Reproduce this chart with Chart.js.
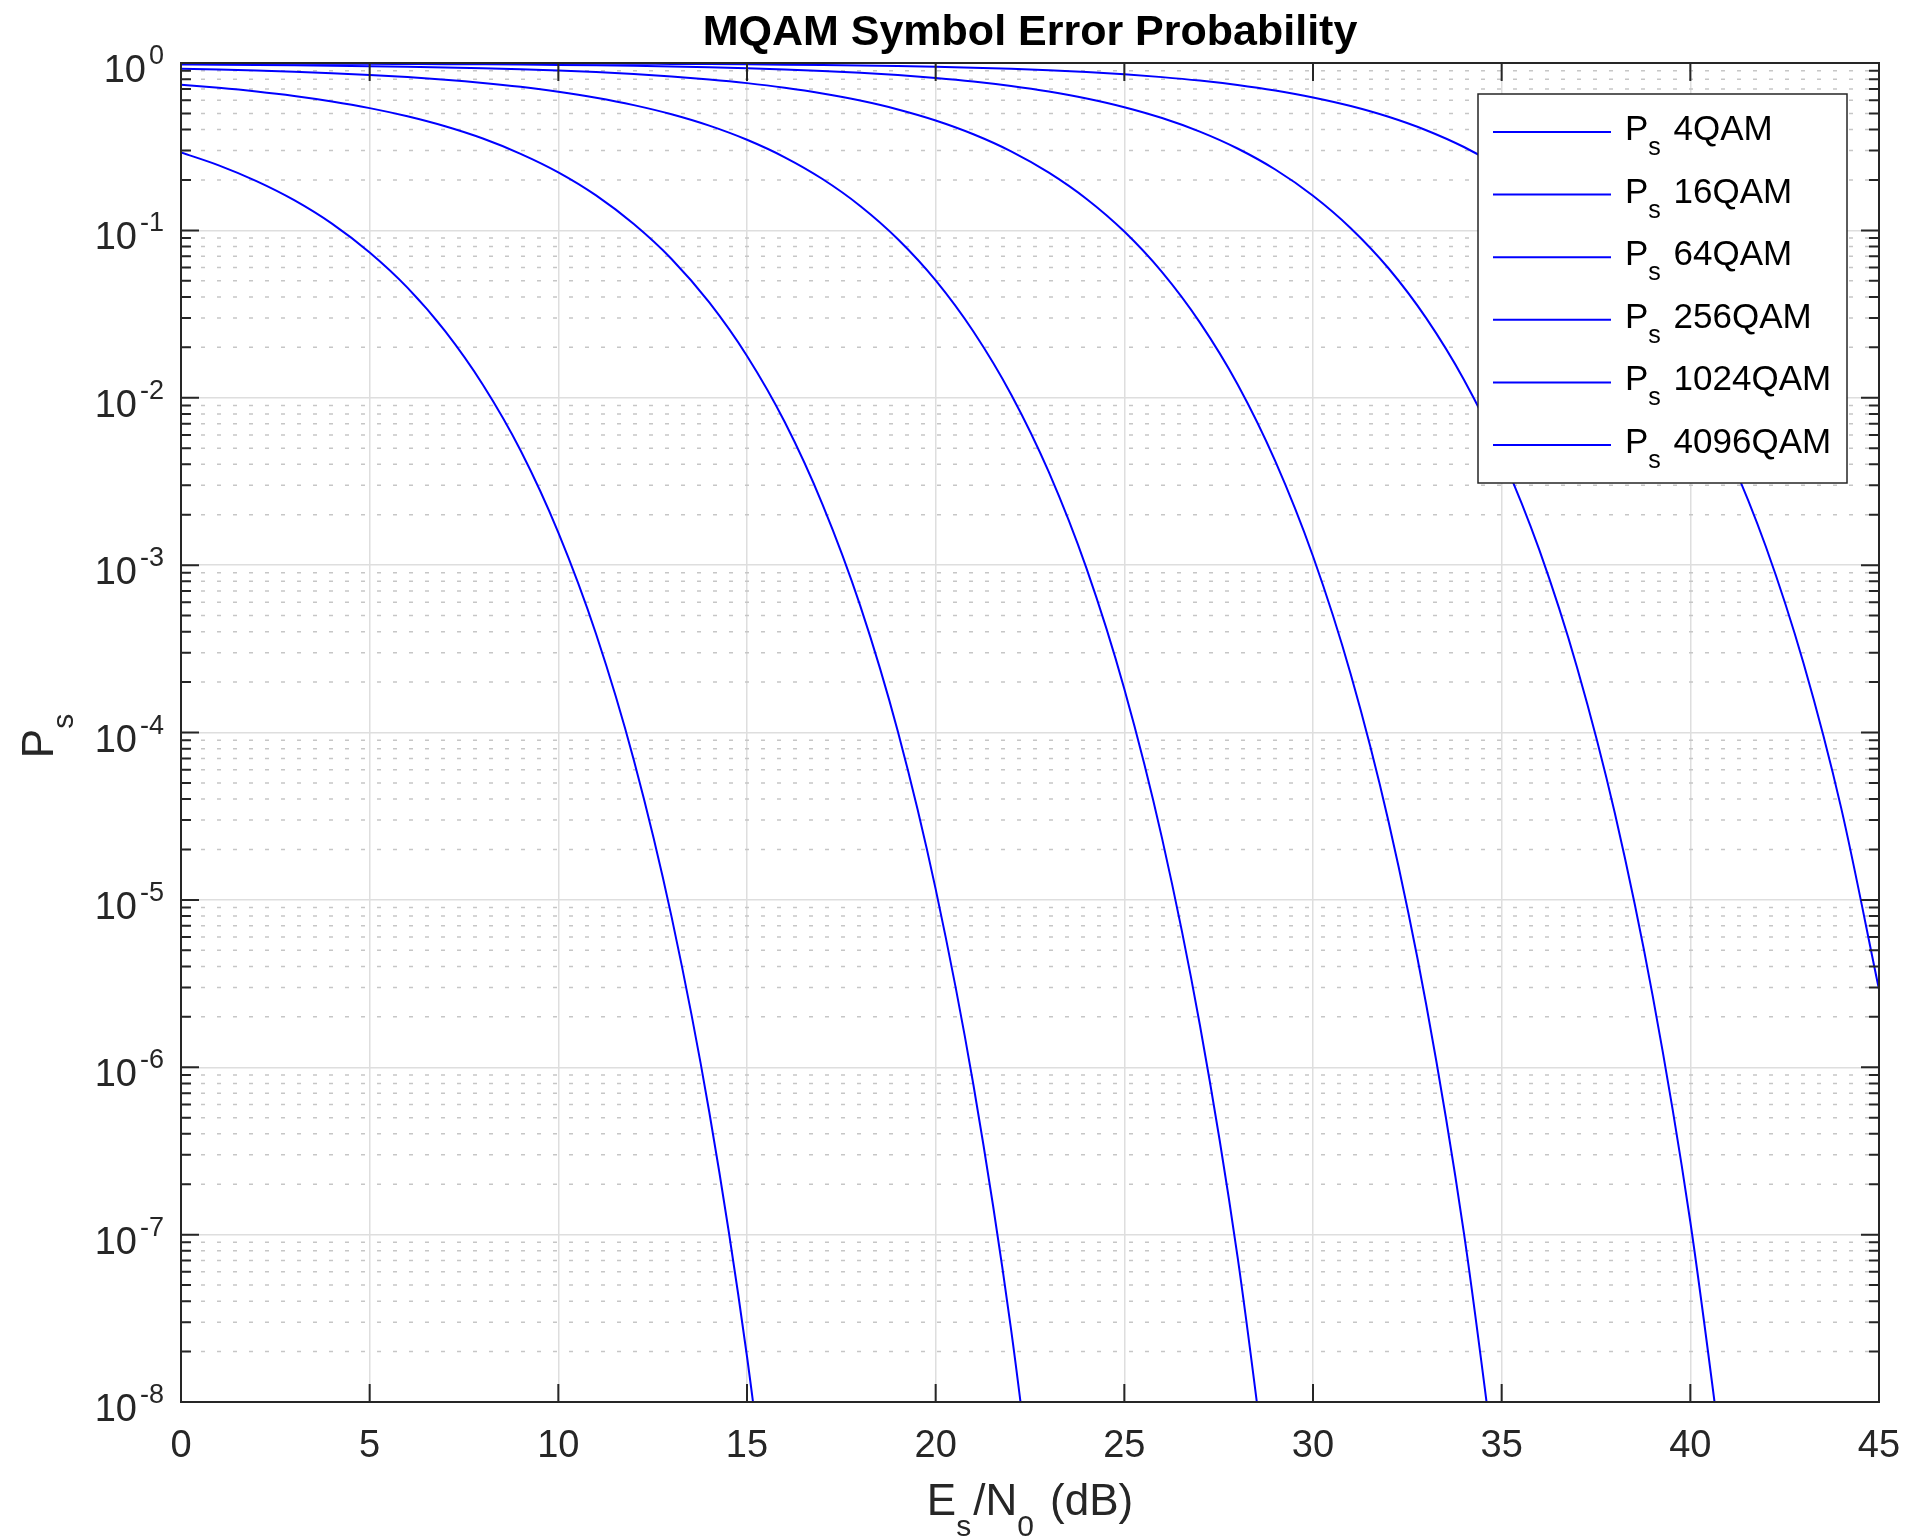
<!DOCTYPE html>
<html>
<head>
<meta charset="utf-8">
<title>MQAM Symbol Error Probability</title>
<script src="https://cdn.jsdelivr.net/npm/chart.js@4.4.1/dist/chart.umd.min.js"></script>
<style>
  html, body { margin: 0; padding: 0; background: #fff; }
  #contenedor { width: 1910px; height: 1537px; }
</style>
</head>
<body>
<div id="contenedor"><canvas id="grafico"></canvas></div>
<script>
// 1. Datos: Es/N0 (dB) y Ps de cada modulación
const esn0 = [0, 1, 2, 3, 4, 5, 6, 7, 8, 9, 10, 11, 12, 13, 14, 15, 16, 17, 18, 19, 20, 21, 22,
              23, 24, 25, 26, 27, 28, 29, 30, 31, 32, 33, 34, 35, 36, 37, 38, 39, 40, 41, 42, 43, 44, 45];

const ps4QAM = [0.2922, 0.2447, 0.1970, 0.1516, 0.1098, 0.0738, 0.0455, 0.0250, 0.01196, 0.00484,
                1.564e-3, 3.88e-4, 6.86e-5, 7.94e-6, 5.40e-7, 1.87e-8, 2.80e-10];
const ps16QAM = [0.7410, 0.7104, 0.6752, 0.6350, 0.5891, 0.5375, 0.4804, 0.4187, 0.3537, 0.2867,
                 0.2222, 0.1618, 0.1091, 0.0675, 0.0371, 0.01777, 0.00716, 2.31e-3, 5.73e-4, 1.01e-4,
                 1.16e-5, 7.86e-7, 2.70e-8, 4.0e-10];
const ps64QAM = [0.9237, 0.9135, 0.9012, 0.8866, 0.8692, 0.8485, 0.8238, 0.7948, 0.7605, 0.7205,
                 0.6739, 0.6205, 0.5603, 0.4939, 0.4223, 0.3477, 0.2733, 0.2027, 0.1400, 0.0886,
                 0.0503, 0.0249, 0.01047, 3.59e-3, 9.52e-4, 1.82e-4, 2.33e-5, 1.80e-6, 7.39e-8, 1.35e-9];
const ps256QAM = [0.9794, 0.9765, 0.9730, 0.9688, 0.9637, 0.9576, 0.9502, 0.9412, 0.9304, 0.9172,
                  0.9014, 0.8821, 0.8588, 0.8309, 0.7975, 0.7581, 0.7116, 0.6577, 0.5964, 0.5280,
                  0.4536, 0.3754, 0.2968, 0.2213, 0.1541, 0.0984, 0.0563, 0.0282, 0.01204, 4.18e-3,
                  1.13e-3, 2.23e-4, 2.95e-5, 2.37e-6, 1.02e-7, 1.99e-9];
const ps1024QAM = [0.9946, 0.9939, 0.9929, 0.9918, 0.9905, 0.9889, 0.9869, 0.9845, 0.9815, 0.9779,
                   0.9734, 0.9680, 0.9614, 0.9532, 0.9432, 0.9309, 0.9157, 0.8973, 0.8749, 0.8476,
                   0.8148, 0.7759, 0.7295, 0.6757, 0.6139, 0.5445, 0.4689, 0.3890, 0.3084, 0.2310,
                   0.1611, 0.1031, 0.0594, 0.0299, 0.01282, 4.50e-3, 1.228e-3, 2.44e-4, 3.29e-5, 2.69e-6,
                   1.19e-7, 2.38e-9];
const ps4096QAM = [0.9986, 0.9984, 0.9982, 0.9979, 0.9976, 0.9972, 0.9967, 0.9960, 0.9952, 0.9944,
                   0.9932, 0.9917, 0.9899, 0.9879, 0.9852, 0.9818, 0.9778, 0.9727, 0.9665, 0.9587,
                   0.9491, 0.9372, 0.9227, 0.9047, 0.8827, 0.8559, 0.8234, 0.7848, 0.7387, 0.6849,
                   0.6230, 0.5535, 0.4773, 0.3967, 0.3148, 0.2361, 0.1654, 0.1059, 0.0611, 0.0309,
                   0.01334, 4.69e-3, 1.292e-3, 2.59e-4, 3.52e-5, 2.92e-6];

const modulaciones = ['4QAM', '16QAM', '64QAM', '256QAM', '1024QAM', '4096QAM'];
const ticksX = [0, 5, 10, 15, 20, 25, 30, 35, 40, 45];
const exponentesY = [-8, -7, -6, -5, -4, -3, -2, -1, 0];
const ticksY = exponentesY.map(e => Math.pow(10, e));

const series = [ps4QAM, ps16QAM, ps64QAM, ps256QAM, ps1024QAM, ps4096QAM];

const FUENTE = '"Liberation Sans", Arial, Helvetica, sans-serif';
const COLOR_EJE = '#262626';
const AZUL = '#0000ff';

// 2. Texto con subíndices / superíndices (lista de partes)
function anchoPartes(ctx, partes) {
    let w = 0;
    partes.forEach(p => {
        ctx.font = (p.bold ? 'bold ' : '') + p.size + 'px ' + FUENTE;
        w += ctx.measureText(p.t).width + (p.gap || 0);
    });
    return w;
}

function dibujarPartes(ctx, partes, x, y) {
    ctx.textAlign = 'left';
    ctx.textBaseline = 'alphabetic';
    partes.forEach(p => {
        ctx.font = (p.bold ? 'bold ' : '') + p.size + 'px ' + FUENTE;
        ctx.fillText(p.t, x, y + (p.dy || 0));
        x += ctx.measureText(p.t).width + (p.gap || 0);
    });
}

// 3. Plugin para el estilo MATLAB: rejilla menor, caja, ticks, textos y leyenda
const ejesMatlab = {
    id: 'ejesMatlab',
    beforeDatasetsDraw(chart) {
        const { ctx, chartArea: a, scales: { y } } = chart;
        ctx.save();
        ctx.strokeStyle = '#c6c6c6';
        ctx.lineWidth = 1.5;
        ctx.setLineDash([4, 12]);
        ticksY.slice(0, -1).forEach(base => {
            for (let m = 2; m <= 9; m++) {
                const py = y.getPixelForValue(m * base);
                ctx.beginPath();
                ctx.moveTo(a.left + 4, py);
                ctx.lineTo(a.right, py);
                ctx.stroke();
            }
        });
        ctx.restore();
    },
    afterDatasetsDraw(chart) {
        const { ctx, chartArea: a, scales: { x, y } } = chart;
        ctx.save();
        ctx.strokeStyle = COLOR_EJE;
        ctx.lineWidth = 2;
        ctx.beginPath();
        // ticks del eje x (abajo y arriba)
        ticksX.forEach(v => {
            const px = x.getPixelForValue(v);
            ctx.moveTo(px, a.bottom); ctx.lineTo(px, a.bottom - 18);
            ctx.moveTo(px, a.top); ctx.lineTo(px, a.top + 18);
        });
        // ticks del eje y, mayores y menores
        ticksY.forEach((base, i) => {
            const py = y.getPixelForValue(base);
            ctx.moveTo(a.left, py); ctx.lineTo(a.left + 18, py);
            ctx.moveTo(a.right, py); ctx.lineTo(a.right - 18, py);
            if (i === ticksY.length - 1) return;
            for (let m = 2; m <= 9; m++) {
                const pm = y.getPixelForValue(m * base);
                ctx.moveTo(a.left, pm); ctx.lineTo(a.left + 10, pm);
                ctx.moveTo(a.right, pm); ctx.lineTo(a.right - 10, pm);
            }
        });
        ctx.stroke();
        ctx.strokeRect(a.left, a.top, a.right - a.left, a.bottom - a.top);
        ctx.restore();
    },
    afterDraw(chart) {
        const { ctx, chartArea: a, scales: { x, y } } = chart;
        ctx.save();
        ctx.fillStyle = COLOR_EJE;

        // etiquetas del eje x
        ctx.font = '38px ' + FUENTE;
        ctx.textAlign = 'center';
        ctx.textBaseline = 'alphabetic';
        ticksX.forEach(v => ctx.fillText(String(v), x.getPixelForValue(v), 1457));

        // etiquetas del eje y: 10^e
        ticksY.forEach((v, i) => {
            const py = y.getPixelForValue(v);
            const sup = String(exponentesY[i]);
            ctx.textAlign = 'right';
            ctx.font = '27px ' + FUENTE;
            const wSup = ctx.measureText(sup).width;
            ctx.fillText(sup, 164, py + 1);
            ctx.font = '38px ' + FUENTE;
            ctx.fillText('10', 164 - wSup - 3, py + 19);
        });

        // título
        ctx.fillStyle = '#000';
        ctx.font = 'bold 43px ' + FUENTE;
        ctx.textAlign = 'center';
        ctx.fillText('MQAM Symbol Error Probability', (a.left + a.right) / 2, 45);

        // etiqueta eje x: Es/N0 (dB)
        ctx.fillStyle = COLOR_EJE;
        const partesX = [
            { t: 'E', size: 44 }, { t: 's', size: 30, dy: 21, gap: 2 },
            { t: '/N', size: 44 }, { t: '0', size: 30, dy: 21, gap: 4 },
            { t: ' (dB)', size: 44 }
        ];
        const wX = anchoPartes(ctx, partesX);
        dibujarPartes(ctx, partesX, (a.left + a.right) / 2 - wX / 2, 1515);

        // etiqueta eje y: Ps (rotada)
        const partesY = [{ t: 'P', size: 44 }, { t: 's', size: 30, dy: 20 }];
        const wY = anchoPartes(ctx, partesY);
        ctx.save();
        ctx.translate(53, 736);
        ctx.rotate(-Math.PI / 2);
        dibujarPartes(ctx, partesY, -wY / 2, 0);
        ctx.restore();

        // leyenda
        const lx = 1478, ly = 94, lw = 369, lh = 389;
        ctx.fillStyle = '#fff';
        ctx.fillRect(lx, ly, lw, lh);
        ctx.strokeStyle = COLOR_EJE;
        ctx.lineWidth = 1.5;
        ctx.strokeRect(lx, ly, lw, lh);
        chart.data.datasets.forEach((ds, i) => {
            const fy = 132 + i * 62.6;
            ctx.strokeStyle = ds.borderColor;
            ctx.lineWidth = 2;
            ctx.beginPath();
            ctx.moveTo(1493, fy);
            ctx.lineTo(1611, fy);
            ctx.stroke();
            ctx.fillStyle = '#000';
            dibujarPartes(ctx, [
                { t: 'P', size: 35 }, { t: 's', size: 25, dy: 15, gap: 3 },
                { t: ' ' + modulaciones[i], size: 35 }
            ], 1625, fy + 8);
        });
        ctx.restore();
    }
};

// 4. Creación del gráfico
const ctx = document.getElementById('grafico').getContext('2d');
const chart = new Chart(ctx, {
    type: 'line',
    data: {
        datasets: series.map((valores, i) => ({
            label: 'Ps ' + modulaciones[i],
            data: valores.map((v, j) => ({ x: esn0[j], y: v })),
            borderColor: AZUL,
            backgroundColor: AZUL,
            borderWidth: 2,
            pointRadius: 0,
            fill: false,
            cubicInterpolationMode: 'monotone'
        }))
    },
    options: {
        responsive: true,
        maintainAspectRatio: false,
        animation: false,
        devicePixelRatio: 1,
        events: [],
        layout: { padding: { top: 63, right: 31, bottom: 0, left: 0 } },
        elements: { line: { capBezierPoints: false } },
        plugins: {
            legend: { display: false },
            title: { display: false },
            tooltip: { enabled: false }
        },
        scales: {
            x: {
                type: 'linear',
                min: 0,
                max: 45,
                afterBuildTicks: s => { s.ticks = ticksX.map(v => ({ value: v })); },
                afterFit: s => { s.height = 135; },
                ticks: { display: false },
                grid: { color: '#dedede', lineWidth: 1.5, drawTicks: false },
                border: { display: false }
            },
            y: {
                type: 'logarithmic',
                min: 1e-8,
                max: 1,
                afterBuildTicks: s => { s.ticks = ticksY.map(v => ({ value: v })); },
                afterFit: s => { s.width = 181; },
                ticks: { display: false },
                grid: { color: '#dedede', lineWidth: 1.5, drawTicks: false },
                border: { display: false }
            }
        }
    },
    plugins: [ejesMatlab]
});
</script>
</body>
</html>
